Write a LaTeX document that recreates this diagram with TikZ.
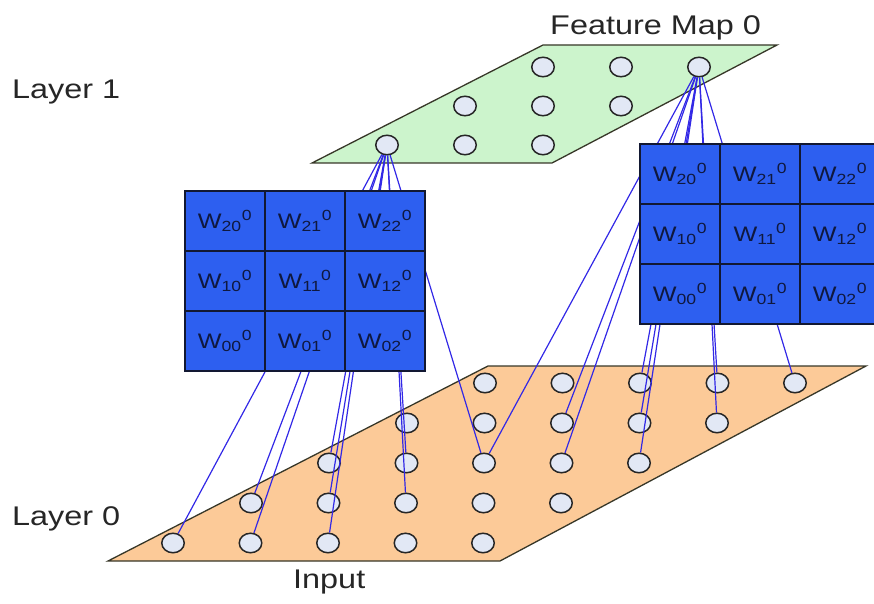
\documentclass[tikz,border=0pt]{standalone}
\usepackage{fontspec}
\setmainfont{Liberation Sans}[FakeStretch=1.2]
\usetikzlibrary{shapes.geometric}
\definecolor{mapgreen}{RGB}{204,244,204}
\definecolor{inorange}{RGB}{252,202,152}
\definecolor{dotfill}{RGB}{226,232,245}
\definecolor{wblue}{RGB}{45,95,240}
\definecolor{wline}{RGB}{18,24,50}
\definecolor{wtext}{RGB}{15,24,62}
\definecolor{linkblue}{RGB}{50,40,230}
\definecolor{planeedge}{RGB}{55,55,40}
\tikzset{
	dot/.style={ellipse, draw=black!85, fill=dotfill, line width=1.5pt, minimum width=22.5pt, minimum height=19.5pt, inner sep=0pt},
	wcell/.style={draw=wline, fill=wblue, line width=1.6pt, minimum width=80pt, minimum height=60pt, inner sep=0pt, text=wtext, font=\fontsize{21}{23}\selectfont},
	link/.style={draw=linkblue, line width=1.2pt},
	layertext/.style={anchor=base west, inner sep=0pt, font=\fontsize{27}{30}\selectfont, text=black!85}
}

\begin{document}
\begin{tikzpicture}[x=1pt,y=-1pt]
		\useasboundingbox (0,0) rectangle (874,604);
		\clip (0,0) rectangle (874,604);
		
		%draw input plane
		\filldraw[draw=planeedge, fill=inorange, line width=1.3pt] (108,561) -- (500,561) -- (866,366) -- (488,366) -- cycle;
		\foreach \i in {0,...,4}
		\foreach \j in {0,...,4}
		\node[dot] (in\i\j) at ({173+77.5*\i+78*\j},{543-40*\j}) {};
		
		%draw feature map plane
		\filldraw[draw=planeedge, fill=mapgreen, line width=1.3pt] (312,163) -- (552,163) -- (777,45) -- (543,45) -- cycle;
		\foreach \i in {0,1,2}
		\foreach \j in {0,1,2}
		\node[dot] (fm\i\j) at ({387+78*\i+78*\j},{145-39*\j}) {};
		
		%connections
		\foreach \i in {0,1,2}
		\foreach \j in {0,1,2}
		\draw[link] (fm00) -- (in\i\j);
		\foreach \i in {2,3,4}
		\foreach \j in {2,3,4}
		\draw[link] (fm22) -- (in\i\j);
		
		%weights
		\foreach \r in {0,1,2}
		\foreach \c in {0,1,2}
		{
		\node[wcell] (wl\r\c) at ({225+80*\c},{341-60*\r}) {W\textsubscript{\r\c}\textsuperscript{0}};
		\node[wcell] (wr\r\c) at ({680+80*\c},{294-60*\r}) {W\textsubscript{\r\c}\textsuperscript{0}};
		}
		
		%labels
		\node[layertext] (lay1) at (12,99) {Layer 1};
		\node[layertext] (lay0) at (12,525) {Layer 0};
		\node[layertext] (fmap) at (550,35) {Feature Map 0};
		\node[layertext] (inp) at (293,588) {Input};
	\end{tikzpicture}
\end{document}
